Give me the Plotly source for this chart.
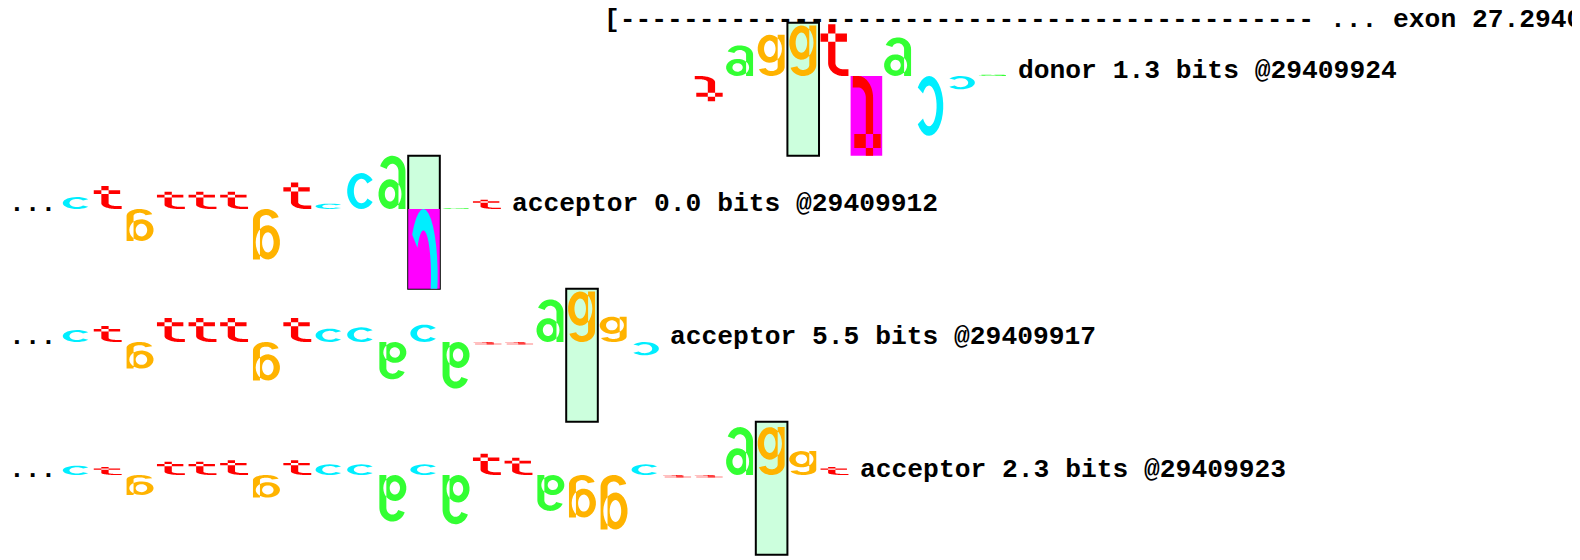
import numpy as np
import plotly.graph_objects as go

# genomic sequence shown in the walkers, first base at SEQ_START
SEQUENCE = "ctgtttgtccacattaggcttaggttacca"
SEQ_START = 29409901
ORIGIN = 29409900

# per-base information (bits) of each walker
donor_start = 29409921
donor_zero = 29409924
donor_bits = [-0.95, 1.15, 1.55, 1.9, 1.95, -3.3, 1.45, -2.25, -0.5, 0.05]

acc1_zero = 29409912
acc1_bits = [0.45, 0.86, -1.2, 0.65, 0.65, 0.65, -1.9, 1.0, 0.2, 1.35, 2.0, -5.0, 0.03, 0.35]

acc2_zero = 29409917
acc2_bits = [0.45, 0.6, -1.0, 0.9, 0.9, 0.9, -1.45, 0.9, 0.5, 0.55, -1.4, 0.65, -1.75,
             -0.1, -0.1, 1.6, 1.9, 0.95, -0.5]

acc3_zero = 29409923
acc3_bits = [0.35, 0.3, -0.75, 0.5, 0.5, 0.55, -0.85, 0.55, 0.4, 0.4, -1.75, 0.4, -1.85,
             0.8, 0.65, -1.35, -1.6, -2.05, 0.4, -0.1, -0.1, 1.8, 1.8, 0.9, 0.3]

site_labels = ["donor 1.3 bits @29409924", "acceptor 0.0 bits @29409912",
               "acceptor 5.5 bits @29409917", "acceptor 2.3 bits @29409923"]
header_text = "[" + "-" * 44 + " ... exon 27.2940"
exon_start = 29409918

COLORS = {"a": "#33ff33", "c": "#00eeff", "g": "#ffb300", "t": "#ff0000"}
ROW_GAP = 5.0


def arc(cx, cy, rx, ry, a0, a1, n=28):
    t = np.radians(np.linspace(a0, a1, n))
    return list(zip(cx + rx * np.cos(t), cy + ry * np.sin(t)))


def band(cx, cy, ro, ri, a0, a1):
    return arc(cx, cy, ro[0], ro[1], a0, a1) + arc(cx, cy, ri[0], ri[1], a1, a0)


def ring(cx, cy, ro, ri):
    return [arc(cx, cy, ro[0], ro[1], 0, 360), arc(cx, cy, ri[0], ri[1], 360, 0)]


def rect(u0, v0, u1, v1):
    return [(u0, v0), (u1, v0), (u1, v1), (u0, v1)]


# letter outlines in a unit cell (v up); negative letters get turned upside down
GLYPHS = {
    "a": ring(0.42, 0.28, (0.38, 0.28), (0.17, 0.14)) + [
        rect(0.70, 0.0, 0.93, 0.70),
        band(0.5, 0.70, (0.43, 0.30), (0.20, 0.15), 0, 160)],
    "c": [band(0.52, 0.5, (0.47, 0.5), (0.25, 0.34), 38, 322)],
    "g": ring(0.44, 0.66, (0.40, 0.34), (0.19, 0.20)) + [
        rect(0.70, 0.22, 0.93, 1.0),
        band(0.5, 0.22, (0.43, 0.22), (0.20, 0.10), 195, 360)],
    "t": [rect(0.28, 0.25, 0.52, 1.0), rect(0.03, 0.66, 0.90, 0.82),
          band(0.78, 0.25, (0.50, 0.25), (0.26, 0.12), 180, 270),
          rect(0.78, 0.0, 0.95, 0.13)],
}


def clip_below(poly, ymin):
    out = []
    for i in range(len(poly)):
        p, q = poly[i - 1], poly[i]
        pin, qin = p[1] >= ymin, q[1] >= ymin
        if qin:
            if not pin:
                f = (ymin - p[1]) / (q[1] - p[1])
                out.append((p[0] + f * (q[0] - p[0]), ymin))
            out.append(q)
        elif pin:
            f = (ymin - p[1]) / (q[1] - p[1])
            out.append((p[0] + f * (q[0] - p[0]), ymin))
    return out


def letter_path(base, x, bits, y0):
    lo, hi = (y0, y0 + bits) if bits >= 0 else (y0 + bits, y0)
    parts = []
    for sub in GLYPHS[base]:
        if bits < 0:
            sub = [(1 - u, 1 - v) for u, v in sub]
        pts = [(x - 0.48 + u * 0.96, lo + v * (hi - lo)) for u, v in sub]
        pts = clip_below(pts, y0 - 3)
        if len(pts) > 2:
            parts.append("M" + "L".join(f"{px:.4f},{py:.4f}" for px, py in pts) + "Z")
    return "".join(parts)


rows = [
    (donor_zero, donor_start, donor_bits, False),
    (acc1_zero, SEQ_START, acc1_bits, True),
    (acc2_zero, SEQ_START, acc2_bits, True),
    (acc3_zero, SEQ_START, acc3_bits, True),
]

fig = go.Figure()
shapes, annotations = [], []
mono = dict(family="Courier New, Liberation Mono, monospace", size=26.3, color="black", weight="bold")

for r, (zero, start, bits, truncated) in enumerate(rows):
    y0 = -r * ROW_GAP
    xz = zero - ORIGIN
    shapes.append(dict(type="rect", xref="x", yref="y", x0=xz - 0.5, x1=xz + 0.5,
                       y0=y0 - 3, y1=y0 + 2, fillcolor="#ccffdd",
                       line=dict(color="black", width=2), layer="above"))
    for i, b in enumerate(bits):
        pos = start + i - ORIGIN
        base = SEQUENCE[start + i - SEQ_START]
        if b < -3:
            shapes.append(dict(type="rect", xref="x", yref="y", x0=pos - 0.5, x1=pos + 0.5,
                               y0=y0 - 3, y1=y0, fillcolor="#ff00ff", line=dict(width=0),
                               layer="above"))
        shapes.append(dict(type="path", xref="x", yref="y", path=letter_path(base, pos, b, y0),
                           fillcolor=COLORS[base], line=dict(width=0), layer="above"))
    last = start + len(bits) - 1 - ORIGIN
    annotations.append(dict(x=last + 0.72, y=y0 + 0.18, text=site_labels[r], showarrow=False,
                            xanchor="left", yanchor="middle", font=mono))
    if truncated:
        annotations.append(dict(x=start - ORIGIN - 0.64, y=y0 + 0.18, text="...", showarrow=False,
                                xanchor="right", yanchor="middle", font=mono,
                                borderpad=0, borderwidth=0))

annotations.append(dict(x=exon_start - ORIGIN - 0.37, y=2.11, text=header_text, showarrow=False,
                        xanchor="left", yanchor="middle", font=mono))

# invisible trace so the axes are set up
fig.add_trace(go.Scatter(x=[0], y=[0], mode="markers", marker=dict(opacity=0), hoverinfo="skip"))

# the page body keeps its default 8px margin, so the figure is 8px smaller than the window
fig.update_xaxes(range=[-1.165, 48.582], visible=False, fixedrange=True)
fig.update_yaxes(range=[-(552 - 68) / 26.6, 68 / 26.6], visible=False, fixedrange=True)
fig.update_layout(
    width=1572, height=552, margin=dict(l=0, r=0, t=0, b=0),
    paper_bgcolor="white", plot_bgcolor="white", showlegend=False,
    shapes=shapes, annotations=annotations,
)
fig.write_html("out.html")
